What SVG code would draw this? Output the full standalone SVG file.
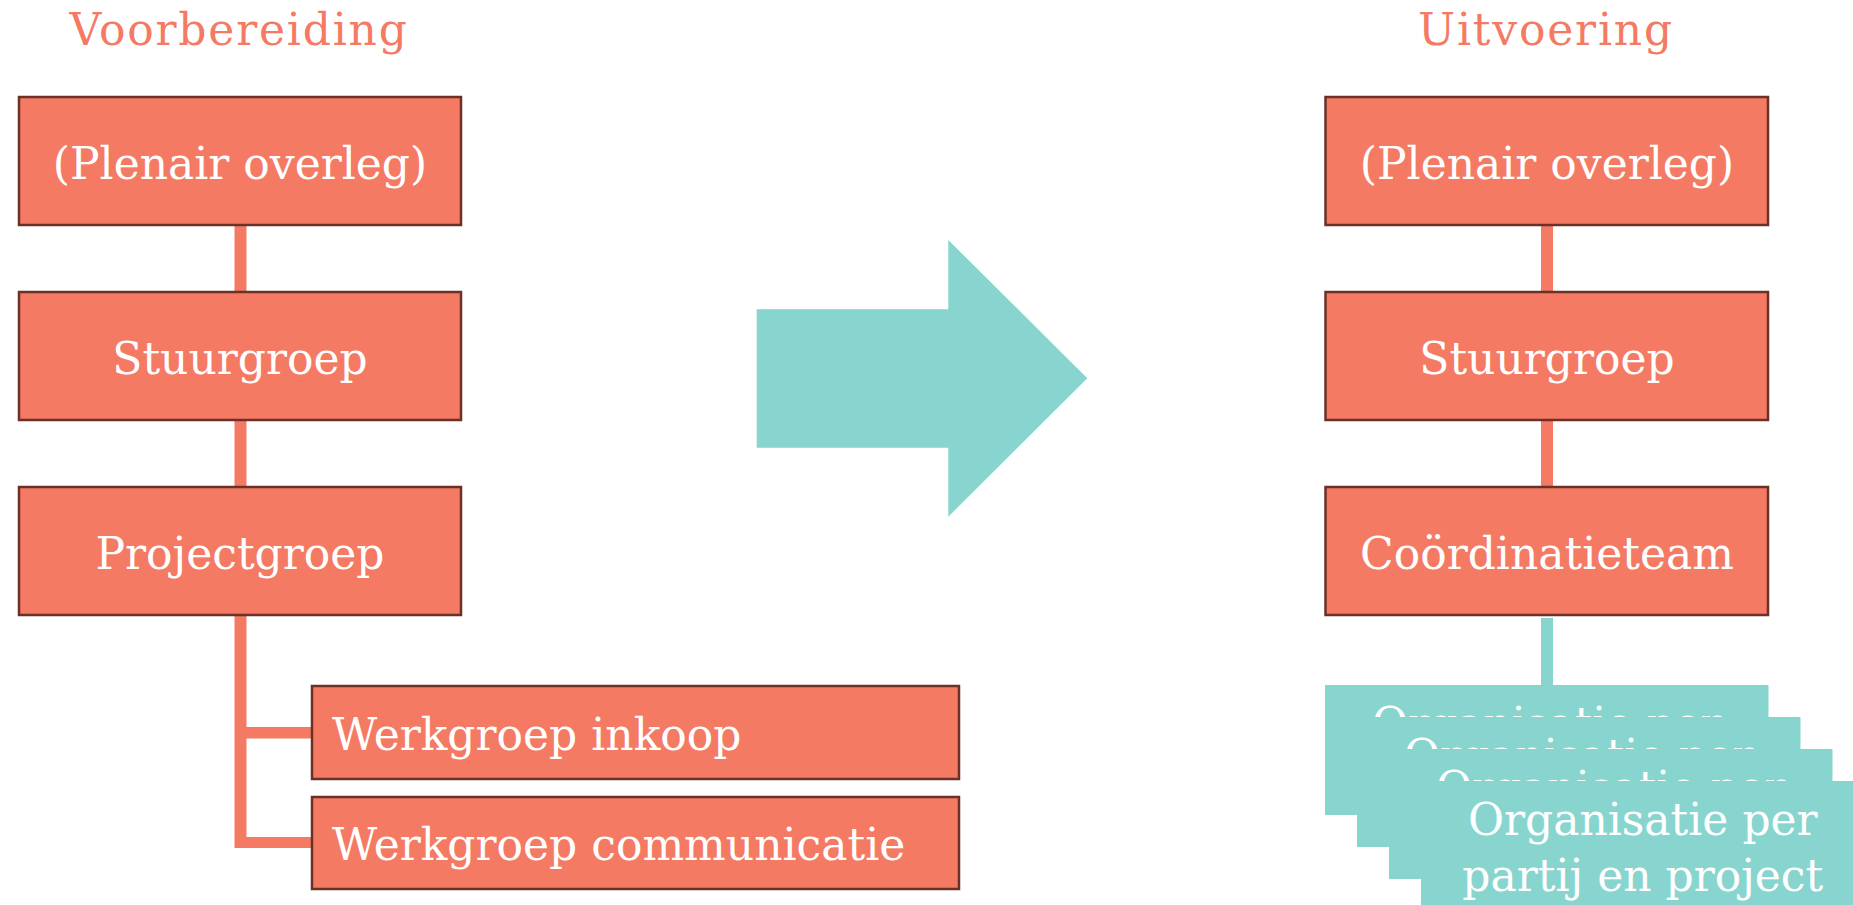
<svg xmlns="http://www.w3.org/2000/svg" width="1853" height="905" viewBox="0 0 1853 905">
<style>
.box{fill:#F47A64;stroke:#6B3126;stroke-width:2.5}
.tbox{fill:#88D5CF}
.t{font-family:"DejaVu Serif","Liberation Serif",serif;font-size:44px;fill:#FFFFFF}
.c{text-anchor:middle}
.title{font-family:"DejaVu Serif","Liberation Serif",serif;font-size:44px;fill:#F47A64;text-anchor:middle;letter-spacing:1.8px}
.con{fill:#F47A64}
.tcon{fill:#88D5CF}
</style>
<rect width="1853" height="905" fill="#FFFFFF"/>
<text class="title" x="239" y="45">Voorbereiding</text>
<text class="title" x="1546" y="45">Uitvoering</text>
<g id="connectors">
<rect class="con" x="234.5" y="225" width="12" height="67"/>
<rect class="con" x="234.5" y="420" width="12" height="67"/>
<rect class="con" x="234.5" y="615" width="12" height="233"/>
<rect class="con" x="246" y="727" width="66" height="11.5"/>
<rect class="con" x="246" y="837" width="66" height="11"/>
<rect class="con" x="1541" y="225" width="12" height="67"/>
<rect class="con" x="1541" y="420" width="12" height="67"/>
<rect class="tcon" x="1541" y="618" width="12" height="67"/>
</g>
<g id="arrow">
<polygon points="756.7,309.3 948.3,309.3 948.3,240 1087.3,378.3 948.3,516.7 948.3,447.7 756.7,447.7" fill="#88D5CF"/>
</g>
<g id="l-plenair"><rect class="box" x="19" y="97" width="442" height="128"/><text class="t c" x="240" y="179">(Plenair overleg)</text></g>
<g id="l-stuurgroep"><rect class="box" x="19" y="292" width="442" height="128"/><text class="t c" x="240" y="374">Stuurgroep</text></g>
<g id="l-projectgroep"><rect class="box" x="19" y="487" width="442" height="128"/><text class="t c" x="240" y="569">Projectgroep</text></g>
<g id="l-inkoop"><rect class="box" x="312" y="686" width="647" height="93"/><text class="t" x="332" y="750">Werkgroep inkoop</text></g>
<g id="l-communicatie"><rect class="box" x="312" y="797" width="647" height="92"/><text class="t" x="332" y="860">Werkgroep communicatie</text></g>
<g id="r-plenair"><rect class="box" x="1325.5" y="97" width="442.5" height="128"/><text class="t c" x="1547" y="179">(Plenair overleg)</text></g>
<g id="r-stuurgroep"><rect class="box" x="1325.5" y="292" width="442.5" height="128"/><text class="t c" x="1547" y="374">Stuurgroep</text></g>
<g id="r-coordinatieteam"><rect class="box" x="1325.5" y="487" width="442.5" height="128"/><text class="t c" x="1547" y="569">Coördinatieteam</text></g>
<g id="org1"><rect class="tbox" x="1325" y="685" width="443.5" height="130"/><text class="t c" x="1546.75" y="739">Organisatie per</text></g>
<g id="org2"><rect class="tbox" x="1357" y="717" width="443.5" height="130"/><text class="t c" x="1578.75" y="771">Organisatie per</text></g>
<g id="org3"><rect class="tbox" x="1389" y="749" width="443.5" height="130"/><text class="t c" x="1610.75" y="803">Organisatie per</text></g>
<g id="org4"><rect class="tbox" x="1421" y="781" width="443.5" height="130"/><text class="t c" x="1642.75" y="835">Organisatie per</text><text class="t c" x="1642.75" y="891">partij en project</text></g>
</svg>
